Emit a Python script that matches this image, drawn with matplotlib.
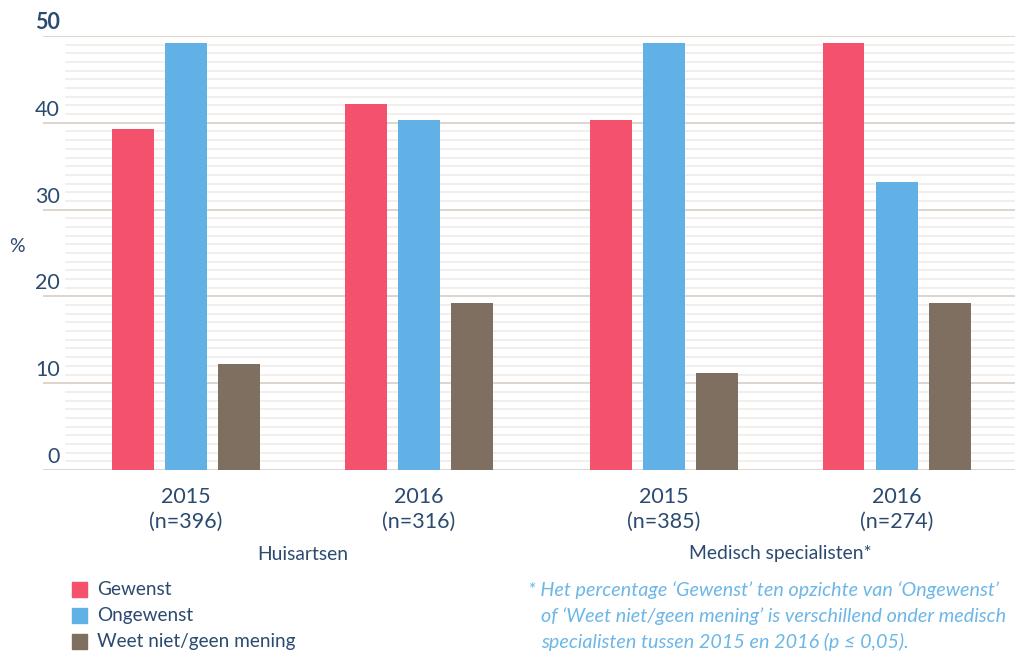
import matplotlib.pyplot as plt
import matplotlib.transforms as mtransforms
import numpy as np

plt.rcParams['font.family'] = ['Lato', 'DejaVu Sans']

# data
jaren = ['2015', '2016', '2015', '2016']
aantallen = ['(n=396)', '(n=316)', '(n=385)', '(n=274)']
groepen = ['Huisartsen', 'Medisch specialisten*']
reeksen = ['Gewenst', 'Ongewenst', 'Weet niet/geen mening']
gewenst = [39.3, 42.2, 40.3, 49.2]
ongewenst = [49.2, 40.3, 49.2, 33.2]
weet_niet = [12.2, 19.2, 11.2, 19.2]
y_ticks = [0, 10, 20, 30, 40, 50]

kleuren = ['#f4516c', '#62b1e6', '#7e6f60']
tekst_kleur = '#2b4a6f'

pos = np.array([0, 1, 2.05, 3.05])
breedte = 0.18
stap = 0.228

W, H = 1015, 653
fig = plt.figure(figsize=(W / 100, H / 100), dpi=100)
ax = fig.add_axes([43 / W, 1 - 470 / H, 972 / W, 434 / H])
ax.set_xlim(-0.614, 3.558)
ax.set_ylim(0, 50)

# hulplijnen
for v in range(1, 50):
    if v % 10 == 0:
        continue
    ax.axhline(v, xmin=23 / 972, color='#efebe8', lw=1.2, zorder=0)
for v in y_ticks:
    ax.axhline(v, color='#ddd5cd', lw=1.4, zorder=0)

for i, (vals, kl) in enumerate(zip([gewenst, ongewenst, weet_niet], kleuren)):
    ax.bar(pos + (i - 1) * stap, vals, width=breedte, color=kl, zorder=2)

for s in ax.spines.values():
    s.set_visible(False)
ax.set_xticks([])
ax.set_yticks([])

# y labels
trans_y = mtransforms.blended_transform_factory(ax.transAxes, ax.transData)
for v in y_ticks:
    ax.text(0.0175, v + 0.35, str(v), transform=trans_y, ha='right', va='bottom',
            fontsize=15.5, color=tekst_kleur,
            fontweight='bold' if v == 50 else 'normal')
fig.text(17 / W, 1 - 246 / H, '%', ha='center', va='center',
         fontsize=14, color=tekst_kleur)

# x labels
trans_x = mtransforms.blended_transform_factory(ax.transData, fig.transFigure)
for p, jaar, n in zip(pos, jaren, aantallen):
    ax.text(p, 1 - 497 / H, jaar, transform=trans_x, ha='center', va='center',
            fontsize=15.5, color=tekst_kleur)
    ax.text(p, 1 - 522 / H, n, transform=trans_x, ha='center', va='center',
            fontsize=15.5, color=tekst_kleur)
for (a, b), g in zip([(pos[0], pos[1]), (pos[2], pos[3])], groepen):
    ax.text((a + b) / 2, 1 - 554 / H, g, transform=trans_x, ha='center',
            va='center', fontsize=13.9, color=tekst_kleur)

# legenda
for i, (naam, kl) in enumerate(zip(reeksen, kleuren)):
    yy = 1 - (589.5 + i * 26) / H
    fig.patches.append(plt.Rectangle((72 / W, yy - 7.5 / H), 15 / W, 15 / H,
                                     transform=fig.transFigure, color=kl))
    fig.text(97 / W, yy, naam, ha='left', va='center', fontsize=13.7,
             color=tekst_kleur)

# voetnoot
noot = ["* Het percentage \u2018Gewenst\u2019 ten opzichte van \u2018Ongewenst\u2019",
        "of \u2018Weet niet/geen mening\u2019 is verschillend onder medisch",
        "specialisten tussen 2015 en 2016 (p \u2264 0,05)."]
for i, regel in enumerate(noot):
    x0 = 528 if i == 0 else 541
    fig.text(x0 / W, 1 - (590 + i * 26) / H, regel, ha='left', va='center',
             fontsize=14.2, style='italic', color='#6cb6e8')

fig.savefig('out.png', dpi=100)
